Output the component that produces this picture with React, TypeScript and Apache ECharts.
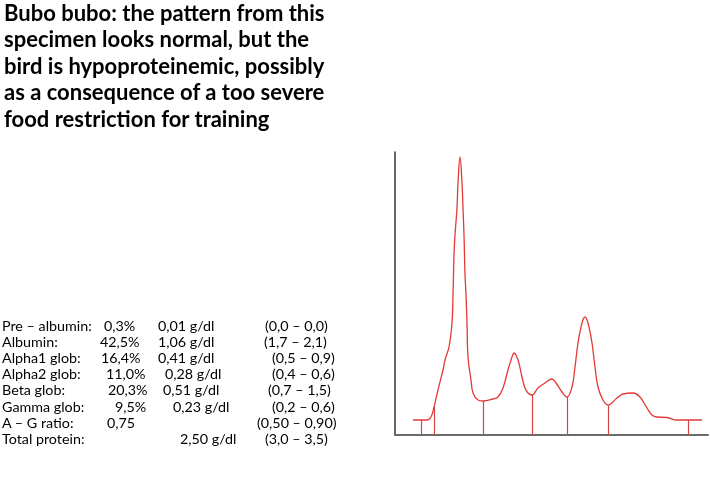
import React, { useEffect, useRef } from "react";
import * as echarts from "echarts";

// Electrophoresis trace (relative migration, relative absorbance)
const curveX = [18, 26, 32, 36, 39, 43, 48, 50, 54, 57, 58, 58.5, 59, 60, 62, 63, 65, 67, 68, 69, 69.5, 70, 71, 72, 73, 76, 78, 83, 88, 98, 103, 108, 113, 117, 119, 123, 127, 130, 133, 137, 143, 150, 157, 161, 167, 172, 177, 180, 183, 187, 190, 193, 197, 200, 203, 208, 213, 222, 228, 238, 245, 252, 257, 262, 272, 282, 293, 307];
const curveY = [15, 15, 15, 18, 28, 45, 65, 75, 88, 112, 140, 160, 180, 200, 227, 252, 278, 252, 227, 200, 180, 160, 140, 112, 78, 55, 42, 35, 34, 36, 38, 47, 65, 78, 82, 75, 58, 47, 42, 40, 47, 52, 56, 52, 43, 38, 48, 68, 92, 112, 118, 112, 92, 68, 48, 35, 30, 37, 41, 42, 38, 27, 20, 18, 17.5, 15, 15, 15];

// Fraction separators
const separatorX = [26, 39, 88, 137, 172, 213, 293];
const separatorY = [15, 28, 34, 40, 38, 30, 15];

const titleLines = [
  "Bubo bubo: the pattern from this",
  "specimen looks normal, but the",
  "bird is hypoproteinemic, possibly",
  "as a consequence of a too severe",
  "food restriction for training",
];

const rowLabels = ["Pre – albumin:", "Albumin:", "Alpha1 glob:", "Alpha2 glob:", "Beta glob:", "Gamma glob:", "A – G ratio:", "Total protein:"];
const rowPercents = ["0,3%", "42,5%", "16,4%", "11,0%", "20,3%", "9,5%", "0,75", ""];
const rowGdl = ["0,01 g/dl", "1,06 g/dl", "0,41 g/dl", "0,28 g/dl", "0,51 g/dl", "0,23 g/dl", "", "2,50 g/dl"];
const rowRanges = ["(0,0 – 0,0)", "(1,7 – 2,1)", "(0,5 – 0,9)", "(0,4 – 0,6)", "(0,7 – 1,5)", "(0,2 – 0,6)", "(0,50 – 0,90)", "(3,0 – 3,5)"];

// layout
const pctLeft = [104, 100, 101, 106, 108, 115, 107, 0];
const gdlLeft = [158, 158, 158, 165, 163, 173, 0, 180];
const rangeLeft = [265, 264, 272, 272, 268, 272, 257, 265];

const FONT = "Lato, 'Open Sans', sans-serif";

export default function App() {
  const ref = useRef<HTMLDivElement>(null);
  useEffect(() => {
    if (!ref.current) return;
    const chart = echarts.init(ref.current, undefined, { renderer: "svg" });
    const tStyle = { fontFamily: FONT, fontSize: 14.3, lineHeight: 13, fill: "#000" };
    const graphics: any[] = [];
    titleLines.forEach((t, i) => {
      graphics.push({
        type: "text",
        x: 4,
        y: 12 + i * 26.6,
        style: { text: t, fontFamily: FONT, fontSize: 22, lineHeight: 22, fontWeight: "bold", fill: "#000", verticalAlign: "middle" },
      });
    });
    rowLabels.forEach((lab, i) => {
      const y = 325 + i * 16.2;
      const add = (text: string, x: number) => {
        if (!text) return;
        graphics.push({ type: "text", x, y, style: { ...tStyle, text, verticalAlign: "middle" } });
      };
      add(lab, 2);
      add(rowPercents[i], pctLeft[i]);
      add(rowGdl[i], gdlLeft[i]);
      add(rowRanges[i], rangeLeft[i]);
    });
    chart.setOption({
      animation: false,
      grid: { left: 395, top: 152, width: 313, height: 283 },
      xAxis: {
        type: "value",
        min: 0,
        max: 313,
        axisLine: { show: true, lineStyle: { color: "#6b6b6b", width: 2 } },
        axisTick: { show: false },
        axisLabel: { show: false },
        splitLine: { show: false },
      },
      yAxis: {
        type: "value",
        min: 0,
        max: 283,
        axisLine: { show: true, lineStyle: { color: "#333", width: 1.5 } },
        axisTick: { show: false },
        axisLabel: { show: false },
        splitLine: { show: false },
      },
      graphic: graphics,
      series: [
        {
          type: "line",
          data: curveX.map((x, i) => [x, curveY[i]]),
          smooth: 0.4,
          symbol: "none",
          lineStyle: { color: "#e53935", width: 1.3 },
          markLine: {
            silent: true,
            symbol: ["none", "none"],
            label: { show: false },
            lineStyle: { color: "#d64545", width: 1.2, type: "solid" },
            data: separatorX.map((x, i) => [{ coord: [x, 0] }, { coord: [x, separatorY[i]] }]),
          },
        },
      ],
    });
    return () => chart.dispose();
  }, []);
  return <div ref={ref} style={{ position: "fixed", left: 0, top: 0, width: 710, height: 478 }} />;
}
